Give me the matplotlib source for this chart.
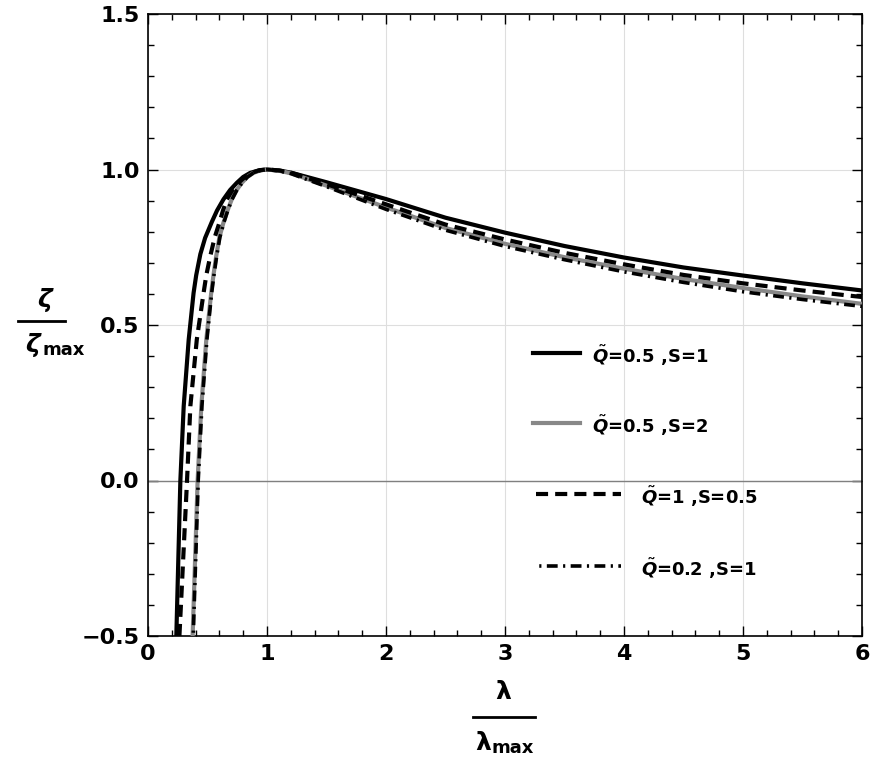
""" Normalised zeta vs lambda curves for several (Q, S) pairs """

import matplotlib
matplotlib.use("Agg")
import matplotlib.pyplot as plt
from matplotlib.lines import Line2D
from matplotlib.ticker import MultipleLocator

plt.rcParams['font.family'] = ['DejaVu Sans']
plt.rcParams['mathtext.fontset'] = 'custom'
plt.rcParams['mathtext.it'] = 'DejaVu Sans:italic:bold'
plt.rcParams['mathtext.rm'] = 'DejaVu Sans:bold'

# values
x_q05_s1 = [0.238, 0.272, 0.30, 0.342, 0.383, 0.405, 0.44, 0.48, 0.537, 0.58, 0.634, 0.69,
            0.746, 0.80, 0.858, 0.93, 1.0, 1.1, 1.2, 1.5, 2.0, 2.5, 3.0, 3.5,
            4.0, 4.5, 5.0, 5.5, 6.0]
y_q05_s1 = [-0.5, 0.0, 0.239, 0.453, 0.603, 0.66, 0.728, 0.78, 0.832, 0.868, 0.904, 0.934,
            0.957, 0.976, 0.989, 0.997, 1.0, 0.997, 0.99, 0.959, 0.905, 0.845, 0.797,
            0.754, 0.717, 0.685, 0.659, 0.634, 0.611]

x_q05_s2 = [0.375, 0.417, 0.448, 0.49, 0.531, 0.55, 0.573, 0.60, 0.634, 0.67, 0.704, 0.745,
            0.788, 0.835, 0.885, 0.95, 1.0, 1.1, 1.2, 1.5, 2.0, 2.5, 3.0, 3.5,
            4.0, 4.5, 5.0, 5.5, 6.0]
y_q05_s2 = [-0.5, 0.0, 0.239, 0.453, 0.603, 0.66, 0.721, 0.782, 0.829, 0.870, 0.904, 0.934,
            0.957, 0.976, 0.989, 0.998, 1.0, 0.996, 0.988, 0.948, 0.878, 0.812, 0.761,
            0.718, 0.681, 0.648, 0.619, 0.592, 0.568]

x_q1_s05 = [0.264, 0.328, 0.356, 0.41, 0.467, 0.49, 0.523, 0.56, 0.60, 0.63, 0.663, 0.71,
            0.76, 0.815, 0.872, 0.94, 1.0, 1.1, 1.2, 1.5, 2.0, 2.5, 3.0, 3.5,
            4.0, 4.5, 5.0, 5.5, 6.0]
y_q1_s05 = [-0.5, 0.0, 0.239, 0.453, 0.603, 0.66, 0.721, 0.781, 0.829, 0.868, 0.904, 0.934,
            0.957, 0.976, 0.989, 0.998, 1.0, 0.997, 0.99, 0.953, 0.888, 0.823, 0.775,
            0.732, 0.695, 0.661, 0.634, 0.611, 0.590]

x_q02_s1 = [0.38, 0.422, 0.453, 0.495, 0.535, 0.554, 0.577, 0.604, 0.637, 0.672, 0.706, 0.747,
            0.79, 0.836, 0.886, 0.95, 1.0, 1.1, 1.2, 1.5, 2.0, 2.5, 3.0, 3.5,
            4.0, 4.5, 5.0, 5.5, 6.0]
y_q02_s1 = [-0.5, 0.0, 0.239, 0.453, 0.603, 0.66, 0.721, 0.782, 0.829, 0.870, 0.904, 0.934,
            0.957, 0.976, 0.989, 0.998, 1.0, 0.996, 0.987, 0.945, 0.872, 0.805, 0.753,
            0.710, 0.671, 0.637, 0.607, 0.582, 0.560]

labels = [r'$\tilde{Q}$=0.5 ,S=1', r'$\tilde{Q}$=0.5 ,S=2',
          r'$\tilde{Q}$=1 ,S=0.5', r'$\tilde{Q}$=0.2 ,S=1']
xticks = [0, 1, 2, 3, 4, 5, 6]
yticks = [-0.5, 0.0, 0.5, 1.0, 1.5]
ytick_labels = ['\u22120.5', '0.0', '0.5', '1.0', '1.5']

W, H = 872, 763
fx = lambda px: px / W
fy = lambda py: 1 - py / H

fig = plt.figure(figsize=(W / 100, H / 100), dpi=100)
ax = fig.add_axes([fx(148), fy(636), (862 - 148) / W, (636 - 14) / H])

dash = (0, (2.9, 1.7))
dashdot = (3.6, (3.0, 1.5, 0.6, 1.5))
styles = [dict(color='black', ls='-', lw=3.0),
          dict(color='#888888', ls='-', lw=3.0),
          dict(color='black', ls=dash, lw=3.0),
          dict(color='black', ls=dashdot, lw=2.6)]

ax.plot(x_q05_s1, y_q05_s1, **styles[0], zorder=3)
ax.plot(x_q05_s2, y_q05_s2, **styles[1], zorder=3)
ax.plot(x_q1_s05, y_q1_s05, **styles[2], zorder=4)
ax.plot(x_q02_s1, y_q02_s1, **styles[3], zorder=4)

ax.set_axisbelow(True)
ax.axhline(0, color='#808080', lw=1.0, zorder=2)
ax.set_xlim(0, 6)
ax.set_ylim(-0.5, 1.5)
ax.set_xticks(xticks, labels=[str(t) for t in xticks])
ax.set_yticks(yticks, labels=ytick_labels)
ax.xaxis.set_minor_locator(MultipleLocator(0.2))
ax.yaxis.set_minor_locator(MultipleLocator(0.1))
ax.grid(True, which='major', color='#dedede', lw=0.8)
ax.tick_params(which='both', direction='in', top=True, right=True, width=1.0)
ax.tick_params(which='major', length=7, labelsize=16, pad=6)
ax.tick_params(which='minor', length=4)
for lab in ax.get_xticklabels() + ax.get_yticklabels():
    lab.set_fontweight('bold')
for sp in ax.spines.values():
    sp.set_linewidth(1.2)

# axis labels drawn as fractions
fig.text(fx(45), fy(300), '\u03b6', fontsize=18, fontweight='bold', style='italic',
         ha='center', va='center')
fig.add_artist(Line2D([fx(18), fx(65)], [fy(321), fy(321)], color='black', lw=2))
fig.text(fx(33), fy(345), '\u03b6', fontsize=18, fontweight='bold', style='italic',
         ha='center', va='center')
fig.text(fx(42), fy(350), 'max', fontsize=13, fontweight='bold', ha='left', va='center')

fig.text(fx(503), fy(692), '\u03bb', fontsize=18, fontweight='bold',
         ha='center', va='center')
fig.add_artist(Line2D([fx(473), fx(535)], [fy(717), fy(717)], color='black', lw=2))
fig.text(fx(483), fy(743), '\u03bb', fontsize=18, fontweight='bold',
         ha='center', va='center')
fig.text(fx(491), fy(748), 'max', fontsize=13, fontweight='bold', ha='left', va='center')

# legend entries
rows = [(533, 580, 592, 353), (533, 580, 592, 423),
        (536, 621, 641, 494), (536, 621, 641, 566)]
for (x0, x1, xt, yr), st, lab in zip(rows, styles, labels):
    fig.add_artist(Line2D([fx(x0), fx(x1)], [fy(yr), fy(yr)], **st))
    fig.text(fx(xt), fy(yr + 3), lab, fontsize=13, fontweight='bold',
             ha='left', va='center')

fig.savefig('out.png', dpi=100)
